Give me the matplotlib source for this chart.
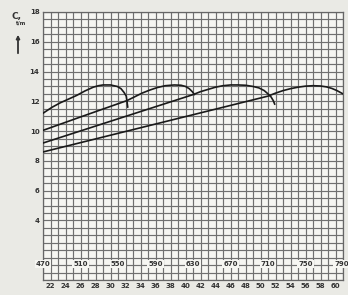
import matplotlib
matplotlib.use("Agg")
import matplotlib.pyplot as plt
import numpy as np

# curve data (x in lower scale units, y in C)
curve1_x = [21, 22.2, 23.3, 24.4, 25.5, 26.6, 27.7, 28.4, 29.0, 30.0, 30.9, 31.4, 31.8, 32.1, 32.2, 32.3]
curve1_y = [11.2, 11.6, 11.9, 12.15, 12.4, 12.7, 12.95, 13.05, 13.1, 13.1, 13.0, 12.85, 12.6, 12.35, 12.0, 11.6]

curve2_x = [21, 26, 32.2, 33.2, 34.2, 35.2, 36.2, 37.3, 38.5, 39.4, 40.0, 40.5, 40.9, 41.2]
curve2_y = [10.05, 10.95, 12.05, 12.3, 12.55, 12.75, 12.92, 13.05, 13.1, 13.08, 13.0, 12.85, 12.65, 12.45]

curve3_x = [21, 41, 42, 43, 44, 45, 46, 47, 48, 49, 49.8, 50.5, 51.0, 51.4, 51.7, 51.9]
curve3_y = [9.2, 12.45, 12.65, 12.8, 12.95, 13.05, 13.1, 13.1, 13.08, 13.0, 12.9, 12.72, 12.5, 12.3, 12.05, 11.8]

curve4_x = [21, 51, 52, 53, 54, 55, 56, 57, 58, 58.8, 59.5, 60.2, 61]
curve4_y = [8.6, 12.35, 12.55, 12.72, 12.85, 12.95, 13.02, 13.05, 13.03, 12.97, 12.87, 12.72, 12.5]

y_ticks = [4, 6, 8, 10, 12, 14, 16, 18]
x_ticks = list(range(22, 61, 2))
top_scale_pos = [21, 26, 31, 36, 41, 46, 51, 56, 60.8]
top_scale_labels = ["470", "510", "550", "590", "630", "670", "710", "750", "790"]

fig = plt.figure(figsize=(3.48, 2.95), dpi=100, facecolor="#eaeae5")
ax = fig.add_axes([43 / 348, 15 / 295, 300 / 348, 268 / 295])
ax.set_facecolor("#f6f6f2")
ax.set_xlim(21, 61)
ax.set_ylim(0, 18)

for xv in np.arange(21, 61.01, 1):
    ax.axvline(xv, color="#707070", lw=0.85, zorder=1)
for yv in np.arange(0, 18.01, 0.5):
    ax.axhline(yv, color="#707070", lw=0.85, zorder=1)

for cx, cy in [(curve1_x, curve1_y), (curve2_x, curve2_y),
               (curve3_x, curve3_y), (curve4_x, curve4_y)]:
    ax.plot(cx, cy, color="#1a1a1a", lw=1.2, zorder=3,
            solid_capstyle="round", solid_joinstyle="round")

for s in ax.spines.values():
    s.set_color("#666666")
    s.set_linewidth(0.9)

ax.set_yticks(y_ticks)
ax.set_yticklabels([str(v) for v in y_ticks], fontsize=5, fontweight="bold", color="#333333")
ax.set_xticks(x_ticks)
ax.set_xticklabels([str(v) for v in x_ticks], fontsize=5, fontweight="bold", color="#333333")
ax.tick_params(length=0, pad=2.5)

for pos, lab in zip(top_scale_pos, top_scale_labels):
    ax.text(pos, 1.05, lab, ha="center", va="center", fontsize=5, fontweight="bold",
            color="#333333", zorder=4,
            bbox=dict(boxstyle="square,pad=0.15", fc="#f6f6f2", ec="none"))

fig.text(16 / 348, 1 - 16 / 295, "C,", fontsize=6.5, fontweight="bold", color="#333333",
         ha="center", va="center")
fig.text(21 / 348, 1 - 23 / 295, "t/m", fontsize=4, fontweight="bold", color="#333333",
         ha="center", va="center")
fig.patches.append(matplotlib.patches.FancyArrowPatch(
    (18 / 348, 1 - 56 / 295), (18 / 348, 1 - 32 / 295), transform=fig.transFigure,
    arrowstyle="-|>,head_length=2,head_width=1", color="#333333", lw=1.3))

fig.savefig("out.png", dpi=100, facecolor=fig.get_facecolor())
